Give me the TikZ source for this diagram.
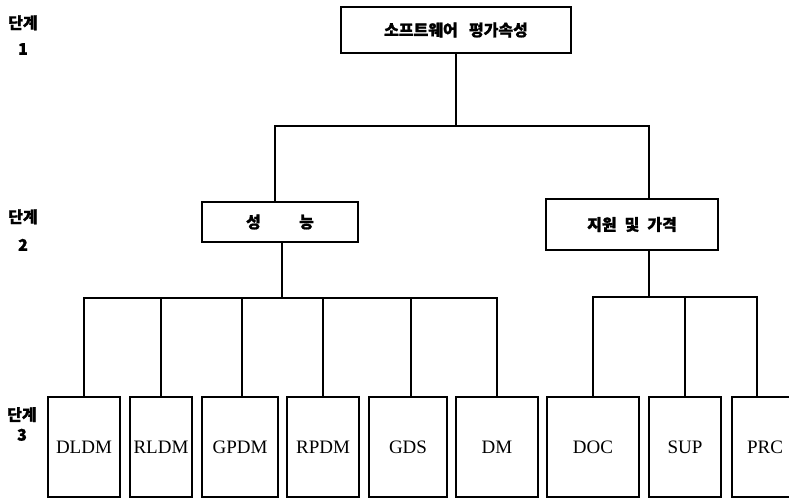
\documentclass[tikz,border=0pt]{standalone}
\usepackage{fontspec}
\setmainfont{Liberation Serif}
\newfontfamily\kr[BoldFeatures={FakeBold=1.2}]{Noto Sans CJK KR}
\begin{document}
\begin{tikzpicture}[x=1pt,y=-1pt, line width=2pt,
  box/.style={draw, line width=2pt, inner sep=0pt, anchor=center},
  kbox/.style={box, font=\kr\bfseries\fontsize{16}{16}\selectfont},
  lbox/.style={box, minimum height=100pt, font=\fontsize{19}{19}\selectfont},
  lvl/.style={font=\kr\bfseries\fontsize{16}{16}\selectfont, align=center, inner sep=0pt}]
\useasboundingbox (0,0) rectangle (789,501);
% level labels
\node[lvl] (s1) at (23,35) {단계\\[10pt]1};
\node[lvl] (s2) at (23,230) {단계\\[12pt]2};
\node[lvl] (s3) at (22,424) {단계\\[4pt]3};
% level 1
\node[kbox, minimum width=230pt, minimum height=46pt] (top) at (456,30) {소프트웨어\hspace{0.7em}평가속성};
% level 2
\node[kbox, minimum width=156pt, minimum height=40pt] (perf) at (280,222) {성\hspace{2.4em}능};
\node[kbox, minimum width=172pt, minimum height=51pt] (supp) at (632,224.5) {지원\hspace{0.5em}및\hspace{0.5em}가격};
% level 3
\node[lbox, minimum width=72pt] (dldm) at (84,447) {DLDM};
\node[lbox, minimum width=62pt] (rldm) at (161,447) {RLDM};
\node[lbox, minimum width=76pt] (gpdm) at (240,447) {GPDM};
\node[lbox, minimum width=72pt] (rpdm) at (323,447) {RPDM};
\node[lbox, minimum width=78pt] (gds) at (408,447) {GDS};
\node[lbox, minimum width=82pt] (dm) at (497,447) {DM};
\node[lbox, minimum width=92pt] (doc) at (593,447) {DOC};
\node[lbox, minimum width=72pt] (sup) at (685,447) {SUP};
\node[lbox, minimum width=66pt] (prc) at (765,447) {PRC};
% connectors level 1 -> 2
\coordinate (j1) at (456,126);
\draw (top.south) -- (j1);
\draw (j1) -| ([xshift=-5pt]perf.north);
\draw (j1) -| ([xshift=17pt]supp.north);
% connectors perf -> children
\coordinate (j2) at (282,298);
\draw ([xshift=2pt]perf.south) -- (j2);
\draw (j2) -| (dldm.north);
\draw (j2) -| (rldm.north);
\draw (j2) -| ([xshift=2pt]gpdm.north);
\draw (j2) -| (rpdm.north);
\draw (j2) -| ([xshift=3pt]gds.north);
\draw (j2) -| (dm.north);
% connectors supp -> children
\coordinate (j3) at (649,297);
\draw ([xshift=17pt]supp.south) -- (j3);
\draw (j3) -| (doc.north);
\draw (j3) -| (sup.north);
\draw (j3) -| ([xshift=-8pt]prc.north);
\end{tikzpicture}
\end{document}
